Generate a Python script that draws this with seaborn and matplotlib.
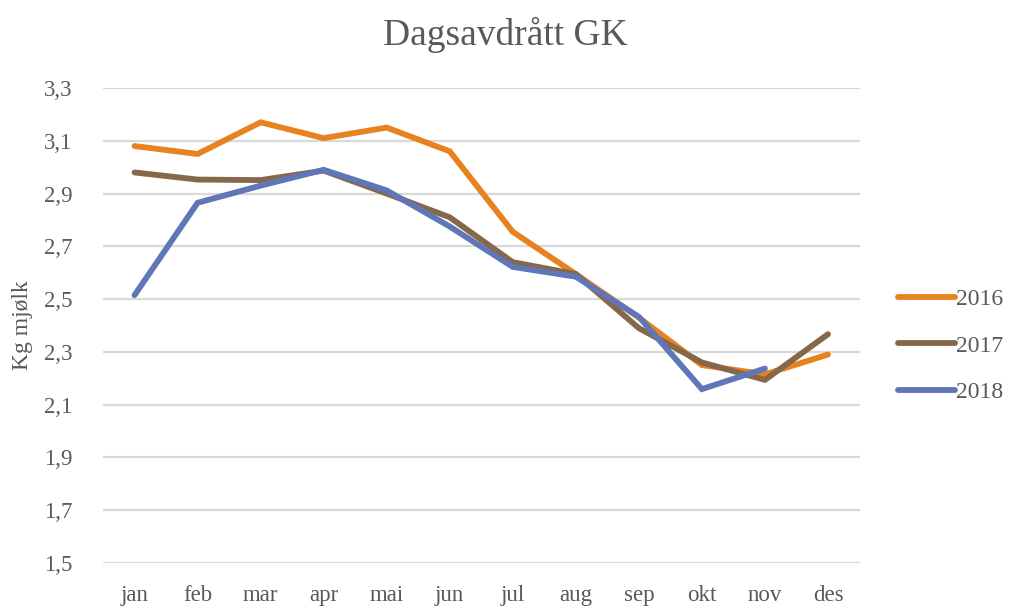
import numpy as np
import pandas as pd
import matplotlib
matplotlib.use("Agg")
import matplotlib.pyplot as plt
from matplotlib.lines import Line2D
import seaborn as sns

months = ["jan", "feb", "mar", "apr", "mai", "jun", "jul", "aug", "sep", "okt", "nov", "des"]
y2016 = [3.08, 3.05, 3.17, 3.11, 3.15, 3.06, 2.755, 2.595, 2.43, 2.25, 2.215, 2.29]
y2017 = [2.98, 2.953, 2.951, 2.987, 2.90, 2.81, 2.64, 2.595, 2.39, 2.26, 2.194, 2.367]
y2018 = [2.515, 2.865, 2.93, 2.99, 2.912, 2.775, 2.622, 2.585, 2.433, 2.159, 2.237, np.nan]
years = ["2016", "2017", "2018"]
yticks = [1.5, 1.7, 1.9, 2.1, 2.3, 2.5, 2.7, 2.9, 3.1, 3.3]

df = pd.DataFrame({
    "month": list(range(12)) * 3,
    "value": y2016 + y2017 + y2018,
    "year": [y for y in years for _ in range(12)],
})

sns.set_style("white")
plt.rcParams["font.family"] = ["Liberation Serif", "DejaVu Serif"]
TXT = "#595959"
pal = {"2016": "#E8821E", "2017": "#85674A", "2018": "#5F77B8"}

fig = plt.figure(figsize=(10.1, 6.09), dpi=100)
ax = fig.add_axes([0.102, 0.0755, 0.749, 0.78])
sns.lineplot(data=df, x="month", y="value", hue="year", hue_order=years,
             palette=pal, lw=4.2, ax=ax, legend=False,
             solid_capstyle="round", solid_joinstyle="miter")

ax.set_xlim(-0.5, 11.5)
ax.set_ylim(1.5, 3.3)
ax.set_yticks(yticks)
ax.set_yticklabels([f"{t:.1f}".replace(".", ",") for t in yticks])
ax.set_xticks(range(12))
ax.set_xticklabels(months)
ax.grid(axis="y", color="#D9D9D9", lw=1.6)
ax.set_axisbelow(True)
for s in ax.spines.values():
    s.set_visible(False)
ax.tick_params(axis="both", length=0, colors=TXT, labelsize=16.5)
ax.tick_params(axis="y", pad=22)
ax.tick_params(axis="x", pad=16)
ax.set_xlabel("")
ax.set_ylabel("Kg mjølk", fontsize=17, color=TXT, labelpad=8)
fig.suptitle("Dagsavdrått GK", x=0.5, y=0.972, fontsize=27, color=TXT)

handles = [Line2D([], [], color=pal[y], lw=4.2, solid_capstyle="round") for y in years]
fig.legend(handles, years, loc="center left", bbox_to_anchor=(0.889, 0.432),
           frameon=False, fontsize=17, handlelength=2.4, handletextpad=0.05,
           labelspacing=1.05, labelcolor=TXT, borderpad=0, borderaxespad=0)

fig.savefig("out.png", dpi=100)
